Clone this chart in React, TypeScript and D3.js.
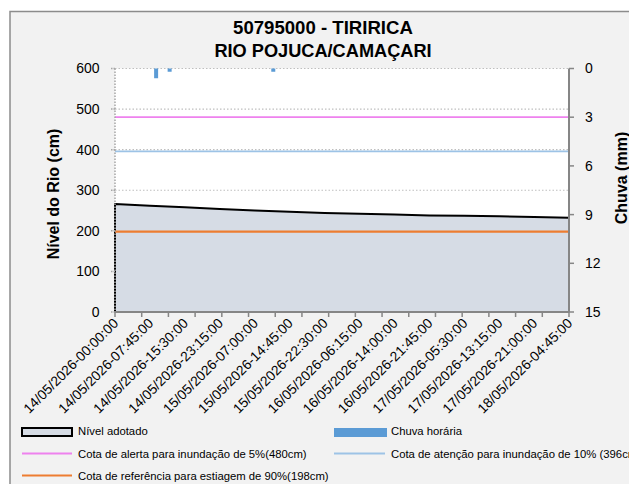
import React from "react";
import * as d3 from "d3";

const titleLines = ["50795000 - TIRIRICA", "RIO POJUCA/CAMAÇARI"];
const xLabels = [
  "14/05/2026-00:00:00", "14/05/2026-07:45:00", "14/05/2026-15:30:00", "14/05/2026-23:15:00",
  "15/05/2026-07:00:00", "15/05/2026-14:45:00", "15/05/2026-22:30:00", "16/05/2026-06:15:00",
  "16/05/2026-14:00:00", "16/05/2026-21:45:00", "17/05/2026-05:30:00", "17/05/2026-13:15:00",
  "17/05/2026-21:00:00", "18/05/2026-04:45:00",
];
// level (cm) at 15-min index
const levelIdx = [0, 31, 62, 93, 124, 155, 186, 217, 248, 279, 310, 341, 372, 403];
const levelCm = [266, 262, 258, 254, 250, 247, 244, 242, 240, 238, 237, 236, 234, 232];
// hourly rain (mm) at 15-min index
const rainIdx = [36, 48, 140];
const rainMm = [0.6, 0.2, 0.2];
const leftTicks = [0, 100, 200, 300, 400, 500, 600];
const rightTicks = [0, 3, 6, 9, 12, 15];
const alertCm = 480;
const attentionCm = 396;
const referenceCm = 198;
const legendItems = [
  "Nível adotado",
  "Chuva horária",
  "Cota de alerta para inundação de 5%(480cm)",
  "Cota de atenção para inundação de 10% (396cm)",
  "Cota de referência para estiagem de 90%(198cm)",
];

const N = 403;
const X0 = 115, X1 = 569, Y0 = 68.5, Y1 = 312;
const FILL = "#d6dce5";
const PINK = "#ee82ee";
const LBLUE = "#9dc3e6";
const ORANGE = "#ed7d31";
const BLUE = "#5b9bd5";
const AXIS = "#868686";
const FONT = "'Liberation Sans', Arial, sans-serif";

export default function App() {
  const x = d3.scaleLinear().domain([0, N]).range([X0, X1]);
  const y = d3.scaleLinear().domain([0, 600]).range([Y1, Y0]);
  const yr = d3.scaleLinear().domain([0, 15]).range([Y0, Y1]);
  const barW = 4;
  const half = (x(1) - x(0)) / 2;

  const pts: [number, number][] = levelIdx.map((d, i) => [d, levelCm[i]]);
  const areaGen = d3.area<[number, number]>().x((d) => x(d[0])).y0(y(0)).y1((d) => y(d[1]));
  const outline =
    `M${x(0)},${y(0)}L` +
    pts.map((d) => `${x(d[0])},${y(d[1])}`).join("L") +
    `L${x(N)},${y(0)}`;

  const tickPos = d3.range(18).map((i) => (N * i) / 17);
  const labelPos = xLabels.map((_, i) => i * 31);

  const hline = (v: number, c: number | string, col: string, w: number) => (
    <line x1={X0} x2={X1} y1={y(v)} y2={y(v)} stroke={col} strokeWidth={w} />
  );

  return (
    <svg width={629} height={484} style={{ position: "absolute", left: 0, top: 0 }} fontFamily={FONT}>
      <rect x={0} y={0} width={629} height={484} fill="#ffffff" />
      <rect x={10} y={11.5} width={700} height={600} fill="#f2f2f2" stroke="#8c8c8c" strokeWidth={1.5} />
      {/* title */}
      <text x={323} y={34} textAnchor="middle" fontSize={18.6} fontWeight="bold" fill="#000">{titleLines[0]}</text>
      <text x={323} y={57} textAnchor="middle" fontSize={18.2} fontWeight="bold" fill="#000">{titleLines[1]}</text>
      {/* plot area */}
      <rect x={X0} y={Y0} width={X1 - X0} height={Y1 - Y0} fill="#ffffff" />
      {leftTicks.filter((t) => t > 0).map((t) => (
        <line key={t} x1={X0} x2={X1} y1={y(t)} y2={y(t)} stroke="#bfbfbf" strokeWidth={1.2} strokeDasharray="1.5 2" />
      ))}
      {/* area */}
      <path d={areaGen(pts) || ""} fill={FILL} />
      <path d={outline} fill="none" stroke="#000" strokeWidth={2} strokeLinejoin="round" />
      {/* threshold lines */}
      {hline(alertCm, 0, PINK, 1.8)}
      {hline(attentionCm, 0, LBLUE, 1.8)}
      {hline(referenceCm, 0, ORANGE, 2.2)}
      {/* rain bars */}
      {rainIdx.map((d, i) => (
        <rect key={i} x={x(d) + half - barW / 2} y={yr(0)} width={barW} height={yr(rainMm[i]) - yr(0)} fill={BLUE} />
      ))}
      {/* left axis */}
      <line x1={X0} x2={X0} y1={Y0} y2={Y1} stroke="#a6a6a6" strokeWidth={1.5} strokeDasharray="1.5 1.5" />
      {leftTicks.map((t) => (
        <g key={t}>
          <line x1={X0 - 4} x2={X0} y1={y(t)} y2={y(t)} stroke="#a6a6a6" strokeWidth={1.5} strokeDasharray="1.5 1" />
          <text x={99.5} y={y(t)} dy="0.35em" textAnchor="end" fontSize={14} fill="#000">{t}</text>
        </g>
      ))}
      {/* right axis */}
      <line x1={X1} x2={X1} y1={Y0} y2={Y1} stroke={AXIS} strokeWidth={2} />
      {rightTicks.map((t) => (
        <g key={t}>
          <line x1={X1} x2={X1 + 5} y1={yr(t)} y2={yr(t)} stroke={AXIS} strokeWidth={1.5} />
          <text x={585} y={yr(t)} dy="0.35em" textAnchor="start" fontSize={14} fill="#000">{t}</text>
        </g>
      ))}
      {/* bottom axis */}
      <line x1={X0} x2={X1} y1={Y1} y2={Y1} stroke={AXIS} strokeWidth={2} />
      {tickPos.map((t, i) => (
        <line key={i} x1={x(t)} x2={x(t)} y1={Y1} y2={Y1 + 5} stroke={AXIS} strokeWidth={1.5} />
      ))}
      {xLabels.map((l, i) => (
        <text key={i} transform={`translate(${x(labelPos[i]) + 1},321) rotate(-45)`} textAnchor="end" dominantBaseline="central" fontSize={13.8} fill="#000">{l}</text>
      ))}
      {/* axis titles */}
      <text transform="translate(53,194) rotate(-90)" textAnchor="middle" dominantBaseline="central" fontSize={16} fontWeight="bold" fill="#000">Nível do Rio (cm)</text>
      <text transform="translate(621,178) rotate(-90)" textAnchor="middle" dominantBaseline="central" fontSize={16} fontWeight="bold" fill="#000">Chuva (mm)</text>
      {/* legend */}
      <rect x={22} y={428} width={50} height={8} fill={FILL} stroke="#000" strokeWidth={2} />
      <text x={78} y={431} dominantBaseline="central" fontSize={11.3} fill="#000">{legendItems[0]}</text>
      <rect x={334} y={428} width={53} height={9} fill={BLUE} />
      <text x={391} y={431} dominantBaseline="central" fontSize={11.3} fill="#000">{legendItems[1]}</text>
      <line x1={22} x2={72} y1={453.5} y2={453.5} stroke={PINK} strokeWidth={1.8} />
      <text x={78} y={453.5} dominantBaseline="central" fontSize={11.3} fill="#000">{legendItems[2]}</text>
      <line x1={334} x2={385} y1={453.5} y2={453.5} stroke={LBLUE} strokeWidth={1.8} />
      <text x={391} y={453.5} dominantBaseline="central" fontSize={11.3} fill="#000">{legendItems[3]}</text>
      <line x1={22} x2={72} y1={475.5} y2={475.5} stroke={ORANGE} strokeWidth={2} />
      <text x={78} y={475.5} dominantBaseline="central" fontSize={11.3} fill="#000">{legendItems[4]}</text>
    </svg>
  );
}
